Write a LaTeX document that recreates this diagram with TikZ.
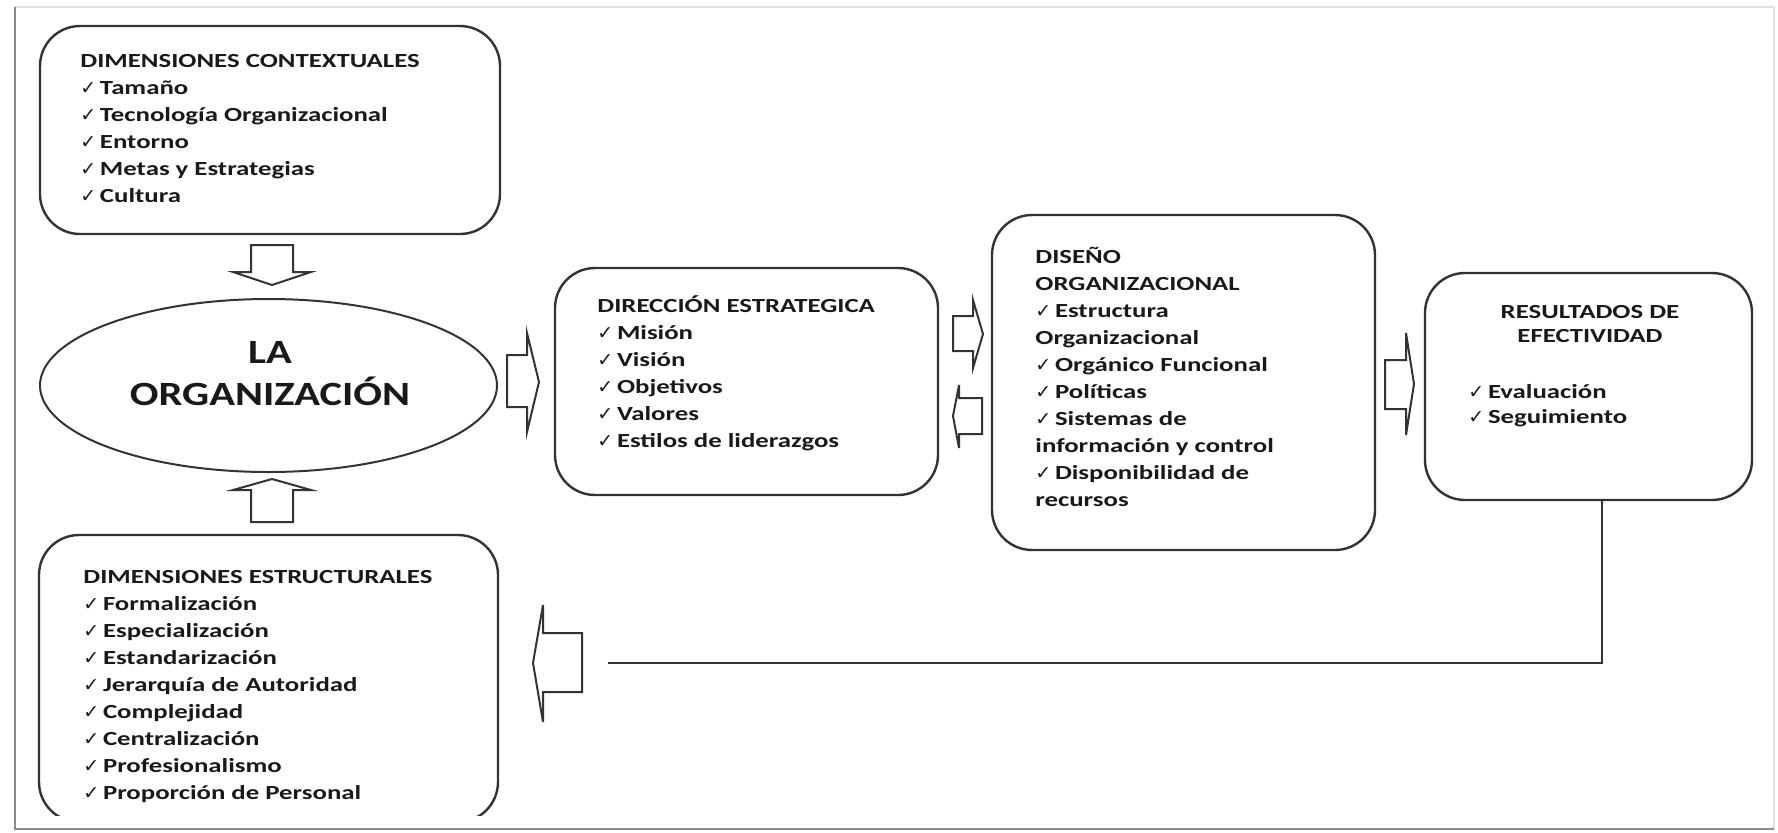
\documentclass[tikz,border=0pt]{standalone}
\usepackage{fontspec}
\usetikzlibrary{calc,shapes.geometric}
\newfontfamily\lblfont[FakeStretch=1.34]{Carlito}
\newfontfamily\bigfont[FakeStretch=1.25]{Carlito}
\newfontfamily\symfont{DejaVu Sans}
% check mark followed by a fixed gap before the item text
\newcommand\ck{\makebox[9.8pt][l]{\symfont\fontsize{9.5pt}{9.5pt}\selectfont ✓}}

\tikzset{
  roundbox/.style={draw=black!80, line width=1.2pt, rounded corners=20pt, fill=white, inner sep=0pt},
  listtext/.style={inner sep=0pt, font=\lblfont\bfseries\fontsize{10pt}{13.5pt}\selectfont, text=black!90},
  blockarrow/.style={draw=black!80, line width=1pt, fill=white, line join=miter},
  feedback/.style={draw=black!80, line width=1.2pt},
}

\begin{document}
\begin{tikzpicture}[x=0.5pt, y=-0.5pt]
\useasboundingbox (0,0) rectangle (1778,832);
\fill[white] (0,0) rectangle (1778,832);

% page frame
\draw[black!12, line width=0.8pt] (15,7) -- (1774,7) -- (1774,829);
\draw[black!45, line width=1.3pt] (15,7) -- (15,829) -- (1774,829);

% boxes
\node[roundbox, minimum width=230pt, minimum height=104pt] (ctx) at (270,130) {};
\node[draw=black!80, line width=1pt, ellipse, fill=white, minimum width=228.5pt, minimum height=86.5pt, inner sep=0pt] (org) at (268.5,385.5) {};
\begin{scope}
  \clip (0,0) rectangle (1778,815);
  \node[roundbox, minimum width=229.5pt, minimum height=143.5pt] (est) at (268.5,678.5) {};
\end{scope}
\node[roundbox, minimum width=191.5pt, minimum height=113.5pt] (dir) at (746.5,381.5) {};
\node[roundbox, minimum width=191.5pt, minimum height=167.5pt] (dis) at (1183.5,382.5) {};
\node[roundbox, minimum width=163.5pt, minimum height=113.5pt] (res) at (1588.5,386.5) {};

% texts
\node[listtext, anchor=base west] (ctxtext) at (80,67) {\begin{tabular}[t]{@{}l@{}}
DIMENSIONES\ CONTEXTUALES\\
\ck Tamaño\\
\ck Tecnología Organizacional\\
\ck Entorno\\
\ck Metas y Estrategias\\
\ck Cultura
\end{tabular}};

\node[inner sep=0pt, anchor=base, font=\bigfont\bfseries\fontsize{17pt}{21pt}\selectfont, text=black!90] (orgtext) at (270,363) {\begin{tabular}[t]{@{}c@{}}
LA\\
ORGANIZACIÓN
\end{tabular}};

\node[listtext, anchor=base west] (esttext) at (83,583) {\begin{tabular}[t]{@{}l@{}}
DIMENSIONES\ ESTRUCTURALES\\
\ck Formalización\\
\ck Especialización\\
\ck Estandarización\\
\ck Jerarquía de Autoridad\\
\ck Complejidad\\
\ck Centralización\\
\ck Profesionalismo\\
\ck Proporción de Personal
\end{tabular}};

\node[listtext, anchor=base west] (dirtext) at (597,312) {\begin{tabular}[t]{@{}l@{}}
DIRECCIÓN\ ESTRATEGICA\\
\ck Misión\\
\ck Visión\\
\ck Objetivos\\
\ck Valores\\
\ck Estilos de liderazgos
\end{tabular}};

\node[listtext, anchor=base west] (distext) at (1035,263) {\begin{tabular}[t]{@{}l@{}}
DISEÑO\\
ORGANIZACIONAL\\
\ck Estructura\\
Organizacional\\
\ck Orgánico Funcional\\
\ck Políticas\\
\ck Sistemas de\\
información y control\\
\ck Disponibilidad de\\
recursos
\end{tabular}};

\node[listtext, anchor=base] (restitle) at (1590,318) {\begin{tabular}[t]{@{}c@{}}
RESULTADOS\ DE\\[-1.5pt]
EFECTIVIDAD
\end{tabular}};

\node[listtext, anchor=base west] (resitems) at (1468,398) {\begin{tabular}[t]{@{}l@{}}
\ck Evaluación\\[-1pt]
\ck Seguimiento
\end{tabular}};

% block arrows
\draw[blockarrow] (251,245) -- (293,245) -- (293,272) -- (311,272) -- (272,285) -- (233,272) -- (251,272) -- cycle;
\draw[blockarrow] (251,522) -- (293,522) -- (293,490) -- (311,490) -- (272,479) -- (233,490) -- (251,490) -- cycle;
\draw[blockarrow] (507,355) -- (527,355) -- (527,333) -- (539,382) -- (527,432) -- (527,407) -- (507,407) -- cycle;
\draw[blockarrow] (953,316) -- (973,316) -- (973,300) -- (983,334) -- (973,368) -- (973,351) -- (953,351) -- cycle;
\draw[blockarrow] (982,398) -- (959,398) -- (959,385) -- (953,416) -- (959,448) -- (959,434) -- (982,434) -- cycle;
\draw[blockarrow] (1385,360) -- (1406,360) -- (1406,333) -- (1414,384) -- (1406,435) -- (1406,409) -- (1385,409) -- cycle;
\draw[blockarrow] (582,633) -- (543,633) -- (543,605) -- (533,663) -- (543,722) -- (543,692) -- (582,692) -- cycle;

% feedback connector from the results box back to the structural dimensions
\coordinate (fbend) at (608,663);
\draw[feedback] ($(res.south)+(13.5,0)$) |- (fbend);
\end{tikzpicture}
\end{document}
